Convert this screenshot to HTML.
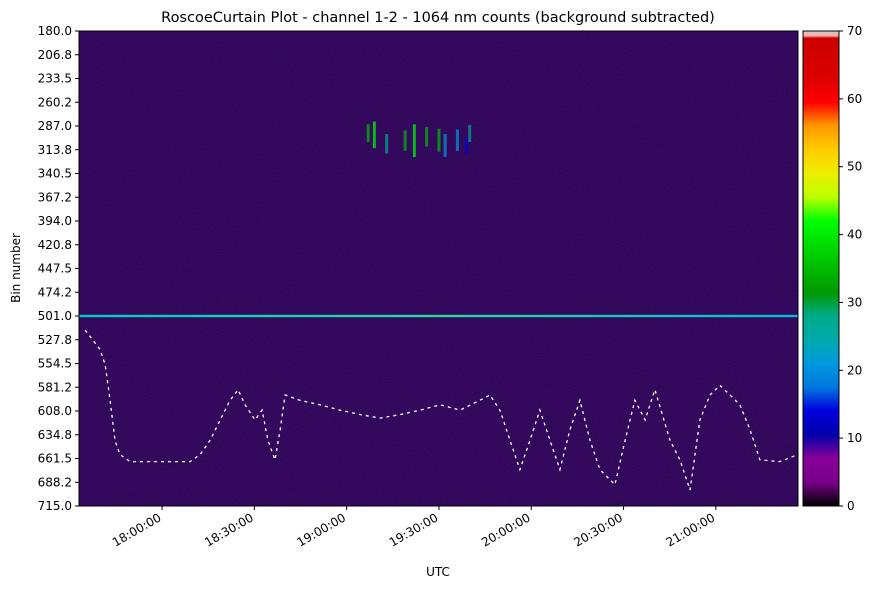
<!DOCTYPE html>
<html><head><meta charset="utf-8"><style>
body{margin:0;background:#fff;font-family:"Liberation Sans","DejaVu Sans",sans-serif;}
svg text{font-family:"DejaVu Sans","Liberation Sans",sans-serif;font-size:12px;fill:#000;}
</style></head><body>
<svg id="chart" width="876" height="588" viewBox="0 0 876 588">
<defs>
<linearGradient id="cmap" x1="0" y1="1" x2="0" y2="0">
<stop offset="0" stop-color="#000"/><stop offset="0.05" stop-color="#770088"/><stop offset="0.1" stop-color="#880099"/>
<stop offset="0.15" stop-color="#0000aa"/><stop offset="0.2" stop-color="#0000dd"/><stop offset="0.25" stop-color="#0077dd"/>
<stop offset="0.3" stop-color="#0099dd"/><stop offset="0.35" stop-color="#00aaaa"/><stop offset="0.4" stop-color="#00aa88"/>
<stop offset="0.45" stop-color="#009900"/><stop offset="0.5" stop-color="#00bb00"/><stop offset="0.55" stop-color="#00dd00"/>
<stop offset="0.6" stop-color="#00ff00"/><stop offset="0.65" stop-color="#bbff00"/><stop offset="0.7" stop-color="#eeee00"/>
<stop offset="0.75" stop-color="#ffcc00"/><stop offset="0.8" stop-color="#ff9900"/><stop offset="0.85" stop-color="#ff0000"/>
<stop offset="0.9" stop-color="#dd0000"/><stop offset="0.985" stop-color="#cc0000"/><stop offset="0.99" stop-color="#ffaaaa"/><stop offset="1" stop-color="#cccccc"/>
</linearGradient>
<linearGradient id="bline" x1="0" x2="1"><stop offset="0" stop-color="#00cccc"/><stop offset="0.5" stop-color="#22dd99"/><stop offset="1" stop-color="#00bbdd"/></linearGradient>
<filter id="noise" x="0" y="0" width="100%" height="100%">
<feTurbulence type="fractalNoise" baseFrequency="0.9" numOctaves="1" seed="3"/>
<feColorMatrix values="0 0 0 0 0.1  0 0 0 0 0  0 0 0 0 0.45  0 0 0 -2.2 1.35"/>
</filter>
</defs>
<text x="438" y="22" text-anchor="middle" style="font-size:14.5px">RoscoeCurtain Plot - channel 1-2 - 1064 nm counts (background subtracted)</text>
<g id="plot">
<rect x="79" y="31" width="719" height="475" fill="#2c0a4e"/>
<rect x="79" y="31" width="719" height="475" fill="#000" filter="url(#noise)" opacity="0.55"/>
<g id="features"></g>
<rect x="79" y="31" width="719" height="475" fill="none" stroke="#000" stroke-width="1"/>
</g>
<g id="xaxis"></g>
<g id="yaxis"></g>
<text x="438" y="576" text-anchor="middle">UTC</text>
<text transform="translate(20,268) rotate(-90)" text-anchor="middle">Bin number</text>
<g>
<rect x="803" y="31" width="36" height="475" fill="url(#cmap)" stroke="#000" stroke-width="1"/>
<g id="cbticks"></g>
</g>
</svg>
<script>
// minutes since 17:30 UTC
const xTickMinutes=[30,60,90,120,150,180,210];
const xTickLabels=["18:00:00","18:30:00","19:00:00","19:30:00","20:00:00","20:30:00","21:00:00"];
const yTickLabels=["180.0","206.8","233.5","260.2","287.0","313.8","340.5","367.2","394.0","420.8","447.5","474.2","501.0","527.8","554.5","581.2","608.0","634.8","661.5","688.2","715.0"];
const cbTicks=[0,10,20,30,40,50,60,70];
const groundTime=[5,9.9,11.5,13.1,14.7,16.3,19.6,24.5,29.4,34.2,39.1,42.4,45.6,48.9,52.1,54.7,57,60.2,62.5,64.4,66.7,68.4,70,74.8,81.3,87.8,94.4,100.9,107.4,113.9,120.4,126.9,133.3,136.6,139.8,143.1,146.3,149.6,152.8,156.1,159.3,162.6,165.8,169.1,172.3,177.2,180.5,183.7,187,190.2,195.1,198.3,201.6,204.8,208.1,211.3,214.6,217.8,221.1,224.3,230.8,236.7];
const groundBin=[517,539,556,596,641,657,665,665,665,665,665,657,641,618,596,584,601,618,607,641,663,629,590,596,601,607,612,616,612,607,601,607,596,590,607,641,674,641,607,641,674,629,596,641,674,691,641,596,618,584,641,663,697,618,590,579,590,601,629,663,665,657];
const layerBin=501;
const cloudTime=[97,99,103,109,112,116,120,122,126,129,130];
const cloudTop=[285,282,296,292,285,288,290,296,291,300,286];
const cloudBot=[305,312,318,315,322,310,316,322,315,318,305];
const cloudVal=[35,45,30,38,48,40,35,25,22,20,30];

const NS="http://www.w3.org/2000/svg";
const X0=79,X1=798,Y0=31,Y1=506,T0=3.0,T1=236.7,B0=180,B1=715;
function xs(t){return X0+(t-T0)/(T1-T0)*(X1-X0);}
function ys(b){return Y0+(b-B0)/(B1-B0)*(Y1-Y0);}
function mk(tag,attrs,parent){const e=document.createElementNS(NS,tag);for(const k in attrs)e.setAttribute(k,attrs[k]);parent.appendChild(e);return e;}
const cols=["#000","#880099","#0000dd","#0099dd","#00aa88","#00bb00","#00ff00","#eeee00","#ff9900","#dd0000"];
function cval(v){return cols[Math.min(9,Math.floor(v/70*10))];}

const feat=document.getElementById('features');
let l=mk('rect',{x:X0,width:X1-X0,y:ys(layerBin)-1.2,height:2.4,fill:'url(#bline)'},feat);


for(let i=0;i<cloudTime.length;i++){
  const r=mk('rect',{x:xs(cloudTime[i])-1.5,y:ys(cloudTop[i]),width:3,height:ys(cloudBot[i])-ys(cloudTop[i]),fill:cval(cloudVal[i]),opacity:0.7},feat);
  
  
}
let pts=groundTime.map((t,i)=>xs(t).toFixed(1)+","+ys(groundBin[i]).toFixed(1)).join(" ");
const g=mk('polyline',{points:pts,fill:'none',stroke:'#fff','stroke-width':1.3,'stroke-dasharray':'3 4'},feat);



const xa=document.getElementById('xaxis');
xTickMinutes.forEach((m,i)=>{
  const x=xs(m);
  mk('line',{x1:x,x2:x,y1:Y1,y2:Y1+4,stroke:'#000'},xa);
  const t=mk('text',{x:x,y:Y1+14,'text-anchor':'end',transform:`rotate(-30 ${x} ${Y1+14})`},xa);
  t.textContent=xTickLabels[i];
  
  
});
const ya=document.getElementById('yaxis');
yTickLabels.forEach((lab,i)=>{
  const y=Y0+i*(Y1-Y0)/(yTickLabels.length-1);
  mk('line',{x1:X0-4,x2:X0,y1:y,y2:y,stroke:'#000'},ya);
  const t=mk('text',{x:X0-7,y:y+4,'text-anchor':'end'},ya);
  t.textContent=lab;
  
  
});
const cb=document.getElementById('cbticks');
cbTicks.forEach(v=>{
  const y=Y1-v/70*(Y1-Y0);
  mk('line',{x1:839,x2:843,y1:y,y2:y,stroke:'#000'},cb);
  const t=mk('text',{x:847,y:y+4},cb);
  t.textContent=v;
  
  
});
</script>
</body></html>
